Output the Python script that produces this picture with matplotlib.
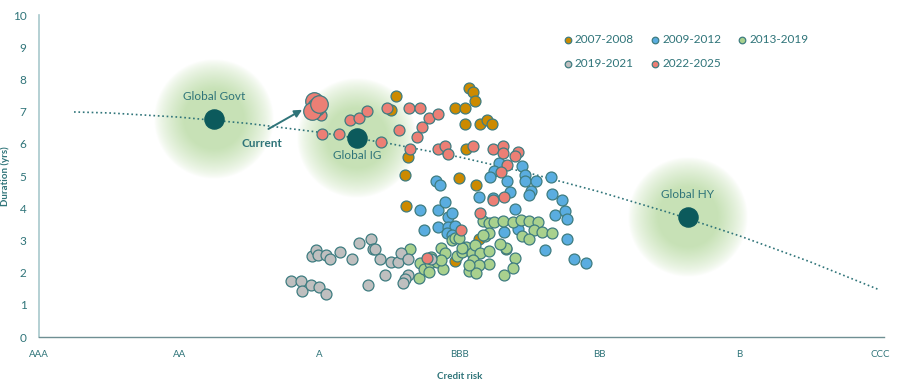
import numpy as np
import matplotlib
matplotlib.use("Agg")
import matplotlib.pyplot as plt

plt.rcParams['font.family'] = ['Lato', 'DejaVu Sans']

# rating scale on the x axis (0 = AAA ... 6 = CCC)
ratings = ['AAA', 'AA', 'A', 'BBB', 'BB', 'B', 'CCC']

# period series: credit risk (rating units), duration (yrs)
x_0708 = [2.55, 2.51, 3.07, 3.10, 3.11, 2.97, 3.04, 3.04, 3.15, 3.20, 3.23, 3.05,
          2.63, 2.61, 3.00, 3.12, 2.62, 3.14, 2.97, 3.33]
y_0708 = [7.48, 7.05, 7.73, 7.61, 7.33, 7.11, 7.11, 6.61, 6.61, 6.74, 6.61, 5.84,
          5.59, 5.03, 4.94, 4.72, 4.07, 3.04, 2.36, 2.73]

x_0912 = [3.28, 3.25, 3.22, 3.45, 3.47, 3.34, 3.47, 3.55, 3.65, 3.36, 3.51, 3.50,
          3.66, 3.14, 3.24, 3.73, 3.40, 3.68, 3.75, 3.77, 3.42, 3.32, 3.77, 3.61,
          3.82, 3.90, 2.83, 2.86, 2.72, 2.85, 2.90, 2.92, 2.95, 2.85, 2.92, 2.97,
          2.91, 2.95, 2.75]
y_0912 = [5.40, 5.16, 4.97, 5.31, 5.03, 4.84, 4.84, 4.84, 4.97, 4.50, 4.53, 4.41,
          4.44, 4.35, 4.32, 4.25, 3.98, 3.79, 3.91, 3.66, 3.35, 3.26, 3.04, 2.70,
          2.42, 2.30, 4.84, 4.72, 3.94, 3.94, 4.19, 3.73, 3.85, 3.42, 3.42, 3.45,
          3.23, 3.17, 3.32]

x_1319 = [3.17, 3.21, 3.25, 3.31, 3.38, 3.44, 3.50, 3.56, 3.18, 3.21, 3.53, 3.59,
          3.66, 3.45, 3.50, 3.33, 3.40, 3.38, 3.32, 2.65, 2.71, 2.72, 2.75, 2.79,
          2.80, 2.84, 2.78, 2.87, 2.90, 2.88, 2.87, 2.95, 2.98, 3.02, 3.05, 3.09,
          3.11, 3.15, 3.17, 3.21, 3.21, 3.10, 3.14, 3.07, 3.12, 3.07, 3.02, 2.97,
          3.00, 3.29]
y_1319 = [3.60, 3.54, 3.57, 3.60, 3.57, 3.63, 3.60, 3.57, 3.14, 3.23, 3.32, 3.26,
          3.23, 3.14, 3.04, 2.76, 2.45, 2.14, 1.93, 2.73, 1.83, 2.30, 2.11, 2.30,
          2.48, 2.33, 2.02, 2.76, 2.61, 2.11, 2.39, 3.01, 2.52, 2.64, 2.80, 2.61,
          2.86, 2.61, 3.17, 2.67, 2.27, 2.39, 2.24, 2.05, 1.99, 2.24, 2.76, 3.07,
          3.07, 2.89]

x_1921 = [1.80, 1.87, 1.88, 1.94, 2.00, 2.05, 1.95, 1.98, 1.99, 2.05, 2.08, 2.15,
          2.23, 2.28, 2.37, 2.38, 2.40, 2.43, 2.35, 2.47, 2.51, 2.56, 2.58, 2.63,
          2.63, 2.61, 2.60, 2.80]
y_1921 = [1.74, 1.74, 1.43, 1.61, 1.55, 1.34, 2.52, 2.70, 2.55, 2.55, 2.42, 2.64,
          2.42, 2.92, 3.04, 2.73, 2.73, 2.42, 1.61, 1.93, 2.33, 2.33, 2.61, 2.42,
          1.93, 1.80, 1.68, 2.42]

x_2225 = [2.02, 2.14, 2.22, 2.28, 2.34, 2.44, 2.48, 2.57, 2.64, 2.72, 2.78, 2.85,
          2.73, 2.70, 2.65, 2.85, 2.90, 2.92, 3.10, 3.24, 3.31, 3.31, 3.42, 3.40,
          3.34, 3.30, 3.32, 3.24, 3.15, 3.01, 2.77]
y_2225 = [6.30, 6.30, 6.74, 6.80, 7.02, 6.06, 7.11, 6.43, 7.11, 7.11, 6.80, 6.93,
          6.52, 6.21, 5.84, 5.84, 5.93, 5.68, 5.93, 5.84, 5.93, 5.71, 5.75, 5.62,
          5.34, 5.12, 4.35, 4.25, 3.85, 3.32, 2.45]

# most recent readings (drawn larger)
x_current = [1.96, 1.98, 1.95, 2.00]
y_current = [7.33, 7.14, 7.02, 7.24]
x_current_small = [2.01]
y_current_small = [6.89]

# benchmark indices
idx_names = ['Global Govt', 'Global IG', 'Global HY']
idx_x = [1.25, 2.27, 4.63]
idx_y = [6.77, 6.18, 3.73]

# trend line
trend_x = [0.25, 0.5, 1.0, 1.5, 2.0, 2.5, 3.0, 3.5, 4.0, 4.5, 5.0, 5.5, 6.0]
trend_y = [6.99, 6.96, 6.83, 6.63, 6.36, 6.01, 5.59, 5.09, 4.51, 3.86, 3.14, 2.34, 1.46]

teal = '#2f7479'
dark = '#0c5a5c'
edge = '#3e7c80'

fig = plt.figure(figsize=(9, 3.91), dpi=100)
ax = fig.add_axes([0.0433, 0.138, 0.939, 0.8235])

# soft green halos around the indices
g = np.linspace(-1, 1, 241)
gx, gy = np.meshgrid(g, g)
r = np.sqrt(gx ** 2 + gy ** 2)
alpha = np.clip((1.0 - r) / 0.5, 0, 1) ** 0.75 * 0.95
halo = np.zeros((241, 241, 4))
halo[..., 0] = 0.77
halo[..., 1] = 0.88
halo[..., 2] = 0.70
halo[..., 3] = alpha
rx, ry = 60 / 140.2, 60 / 32.2
for cx, cy in zip(idx_x, idx_y):
    ax.imshow(halo, extent=[cx - rx, cx + rx, cy - ry, cy + ry], aspect='auto',
              zorder=1, interpolation='bilinear')
ax.set_xlim(0, 6.03)
ax.set_ylim(0, 10)

ax.plot(trend_x, trend_y, ls=':', color=teal, lw=1.2, zorder=2)

series = [
    ('2007-2008', x_0708, y_0708, '#cc8a00'),
    ('2009-2012', x_0912, y_0912, '#5aade0'),
    ('2013-2019', x_1319, y_1319, '#a9d18e'),
    ('2019-2021', x_1921, y_1921, '#bfbfbf'),
    ('2022-2025', x_2225, y_2225, '#ec7f75'),
]
handles = []
for name, xs, ys, col in series:
    h = ax.scatter(xs, ys, s=62, color=col, edgecolors=edge, linewidths=0.9,
                   zorder=3, label=name)
    handles.append(h)
ax.scatter(x_current_small, y_current_small, s=62, color='#ec7f75',
           edgecolors=edge, linewidths=0.9, zorder=3)
ax.scatter(x_current, y_current, s=160, color='#ec7f75',
           edgecolors=edge, linewidths=0.9, zorder=3)

ax.scatter(idx_x, idx_y, s=190, color=dark, zorder=4)
label_off = [0.71, -0.53, 0.71]
for name, xv, yv, off in zip(idx_names, idx_x, idx_y, label_off):
    ax.text(xv, yv + off, name, ha='center', va='center', color=teal, fontsize=8.5)

ax.annotate('', xy=(1.895, 7.1), xytext=(1.62, 6.42),
            arrowprops=dict(arrowstyle='-|>', color=teal, lw=1.4,
                            mutation_scale=11), zorder=5)
ax.text(1.59, 6.0, 'Current', ha='center', va='center', color=teal,
        fontsize=8.5, fontweight='bold')

ax.set_xticks(range(len(ratings)))
ax.set_xticklabels(ratings)
ax.set_yticks(range(0, 11))
ax.tick_params(axis='both', length=0, colors=teal)
ax.tick_params(axis='x', labelsize=7, pad=9)
ax.tick_params(axis='y', labelsize=8.5, pad=9)

ax.set_xlabel('Credit risk', color=teal, fontsize=7, fontweight='bold')
ax.xaxis.set_label_coords(0.498, -0.11)
ax.set_ylabel('Duration (yrs)', color=teal, fontsize=7, fontweight='bold')
ax.yaxis.set_label_coords(-0.034, 0.5)

for side in ['top', 'right']:
    ax.spines[side].set_visible(False)
ax.spines['left'].set_color('#a8c8cc')
ax.spines['left'].set_linewidth(1.2)
ax.spines['bottom'].set_color('#6f8f93')
ax.spines['bottom'].set_linewidth(1.0)

order = [0, 3, 1, 4, 2]
leg = ax.legend([handles[i] for i in order], [series[i][0] for i in order],
                ncol=3, loc='upper left', bbox_to_anchor=(0.613, 0.957),
                frameon=False, fontsize=8.5, markerscale=0.6,
                handletextpad=0.1, columnspacing=1.3, labelspacing=1.1,
                handlelength=1.0, borderaxespad=0)
for t in leg.get_texts():
    t.set_color(teal)

fig.savefig('out.png', dpi=100)
